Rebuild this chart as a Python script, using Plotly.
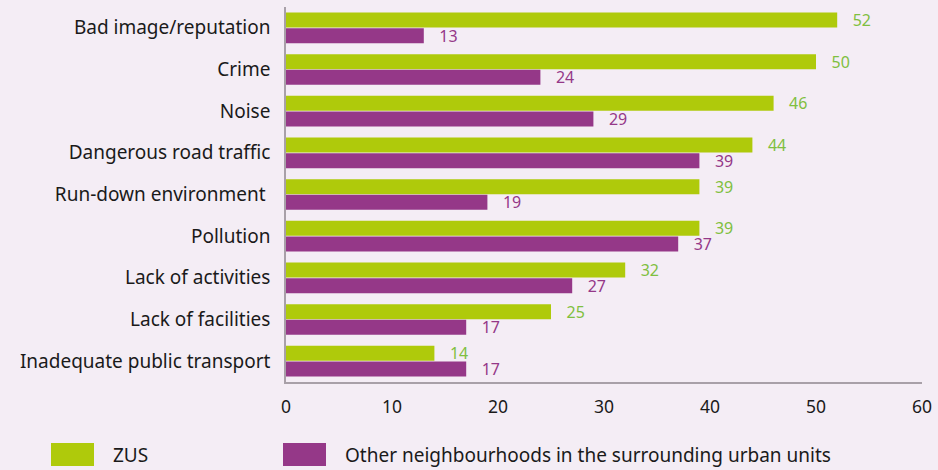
import plotly.graph_objects as go

categories = [
    "Bad image/reputation",
    "Crime",
    "Noise",
    "Dangerous road traffic",
    "Run-down environment ",
    "Pollution",
    "Lack of activities",
    "Lack of facilities",
    "Inadequate public transport",
]
zus = [52, 50, 46, 44, 39, 39, 32, 25, 14]
other = [13, 24, 29, 39, 19, 37, 27, 17, 17]
series_names = ["ZUS", "Other neighbourhoods in the surrounding urban units"]
x_ticks = [0, 10, 20, 30, 40, 50, 60]

GREEN = "#afca0b"
PURPLE = "#953888"
GREEN_TXT = "#7fbf3f"
BG = "#f4edf5"
FONT = "Noto Sans"

W, H = 938, 470
ML, MR, MT, MB = 286, 16, 7, 88
PW, PH = W - ML - MR, H - MT - MB


def px_x(px):
    return (px - ML) / PW


def px_y(py):
    return (H - MB - py) / PH


fig = go.Figure()
for vals, name, col, tcol in [(zus, series_names[0], GREEN, GREEN_TXT),
                              (other, series_names[1], PURPLE, PURPLE)]:
    fig.add_trace(go.Bar(
        y=categories, x=vals, orientation="h", name=name,
        marker=dict(color=col, line=dict(width=0)),
        text=vals, texttemplate="   %{text}", textposition="outside",
        constraintext="none",
        textfont=dict(color=tcol, size=16, family=FONT),
        cliponaxis=False,
    ))

# legend swatches and labels below the plot
legend_items = [(51, 94, GREEN, series_names[0]),
                (283, 326, PURPLE, series_names[1])]
for x0, x1, col, name in legend_items:
    fig.add_shape(type="rect", xref="paper", yref="paper",
                  x0=px_x(x0), x1=px_x(x1), y0=px_y(443), y1=px_y(466),
                  fillcolor=col, line=dict(width=0))
    fig.add_annotation(xref="paper", yref="paper",
                       x=px_x(x1 + 17), y=px_y(455),
                       text=name, showarrow=False, xanchor="left", yanchor="middle",
                       font=dict(size=19, color="#1a1a1a", family=FONT))

fig.update_layout(
    width=W, height=H,
    margin=dict(l=ML, r=MR, t=MT, b=MB),
    paper_bgcolor=BG, plot_bgcolor=BG,
    barmode="group", bargap=0.25, bargroupgap=0.04,
    showlegend=False,
    font=dict(family=FONT, size=19, color="#1a1a1a"),
    xaxis=dict(range=[0, 60], tickvals=x_ticks, showgrid=False, zeroline=False,
               showline=True, linecolor="#a8a0a8", linewidth=1.5,
               ticks="", ticklabelstandoff=8,
               tickfont=dict(size=17.5, family=FONT, color="#1a1a1a")),
    yaxis=dict(autorange="reversed", showgrid=False, zeroline=False,
               showline=True, linecolor="#a8a0a8", linewidth=1.5,
               ticks="", ticklabelstandoff=10,
               tickfont=dict(size=19, family=FONT, color="#1a1a1a")),
)

fig.write_html("out.html")
